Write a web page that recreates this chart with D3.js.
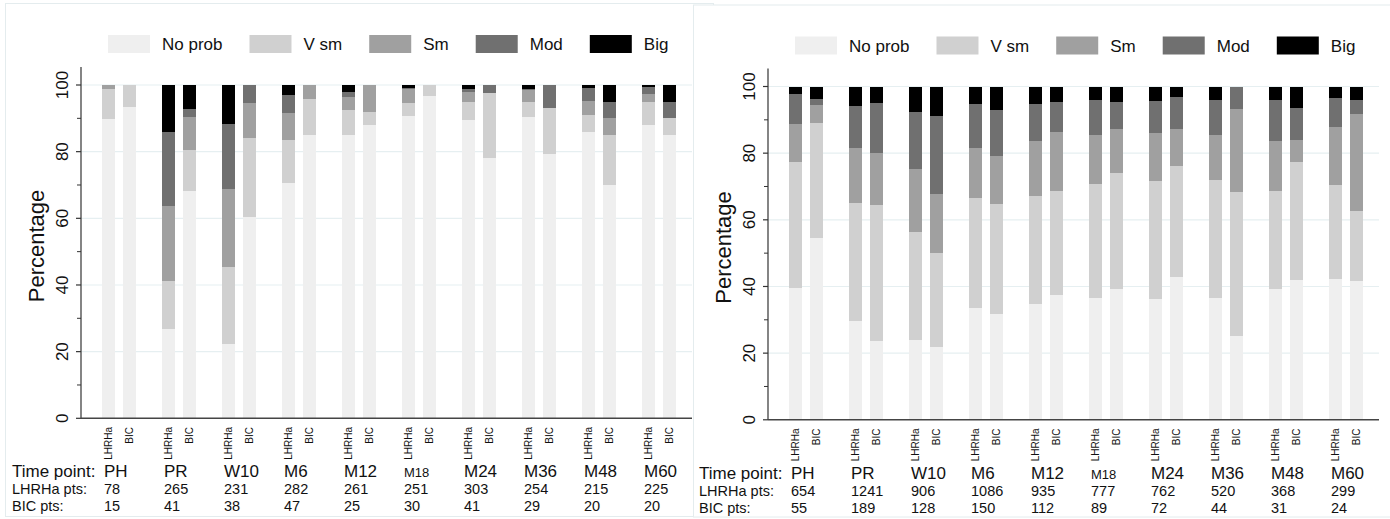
<!DOCTYPE html>
<html>
<head>
<meta charset="utf-8">
<script src="https://cdn.jsdelivr.net/npm/d3@7"></script>
<style>
  html, body { margin: 0; padding: 0; background: #fff; }
  svg text { font-family: "Liberation Sans", Arial, sans-serif; fill: #111; }
</style>
</head>
<body>
<svg id="chart" width="1390" height="519"></svg>
<script>
// ---------- data ----------
const timePoints = ["PH", "PR", "W10", "M6", "M12", "M18", "M24", "M36", "M48", "M60"];
const arms = ["LHRHa", "BIC"];
const categories = ["No prob", "V sm", "Sm", "Mod", "Big"];
const yTicks = [0, 20, 40, 60, 80, 100];
const yMinorTicks = [10, 30, 50, 70, 90];

// left panel: percentages per time point [No prob, V sm, Sm, Mod, Big]
const leftLHRHa = [
  [89.7, 9.0, 1.3, 0, 0],
  [26.8, 14.3, 22.6, 22.3, 14.0],
  [22.3, 23.1, 23.3, 19.5, 11.8],
  [70.5, 12.9, 8.1, 5.4, 3.1],
  [84.9, 7.7, 3.7, 1.5, 2.2],
  [90.6, 3.9, 4.3, 0.2, 1.0],
  [89.4, 5.5, 2.9, 0.9, 1.3],
  [90.3, 4.5, 3.7, 0.2, 1.3],
  [85.8, 5.2, 4.1, 3.9, 1.0],
  [87.9, 7.0, 2.3, 2.1, 0.7]
];
const leftBIC = [
  [93.3, 6.7, 0, 0, 0],
  [68.3, 12.2, 9.8, 2.4, 7.3],
  [60.5, 23.7, 10.5, 5.3, 0],
  [85.1, 10.6, 4.3, 0, 0],
  [88.0, 4.0, 8.0, 0, 0],
  [96.7, 3.3, 0, 0, 0],
  [78.0, 19.5, 0, 2.5, 0],
  [79.3, 13.8, 0, 6.9, 0],
  [70.0, 15.0, 5.0, 5.0, 5.0],
  [85.0, 5.0, 0, 5.0, 5.0]
];
const leftLHRHaPts = [78, 265, 231, 282, 261, 251, 303, 254, 215, 225];
const leftBICPts = [15, 41, 38, 47, 25, 30, 41, 29, 20, 20];

// right panel
const rightLHRHa = [
  [39.4, 38.0, 11.4, 9.0, 2.2],
  [29.5, 35.4, 16.7, 12.6, 5.8],
  [23.9, 32.3, 19.0, 17.2, 7.6],
  [33.4, 33.0, 15.2, 13.0, 5.4],
  [34.6, 32.4, 16.7, 11.1, 5.2],
  [36.4, 34.2, 14.9, 10.5, 4.0],
  [36.1, 35.4, 14.6, 9.6, 4.3],
  [36.4, 35.4, 13.7, 10.5, 4.0],
  [39.1, 29.4, 15.2, 12.3, 4.0],
  [42.1, 28.2, 17.6, 8.7, 3.4]
];
const rightBIC = [
  [54.5, 34.5, 5.5, 1.8, 3.7],
  [23.6, 40.7, 15.8, 15.0, 4.9],
  [21.8, 28.1, 17.7, 23.6, 8.8],
  [31.6, 33.0, 14.6, 13.8, 7.0],
  [37.3, 31.2, 17.9, 9.0, 4.6],
  [39.1, 34.8, 13.4, 8.1, 4.6],
  [42.7, 33.5, 11.1, 9.6, 3.1],
  [25.0, 43.2, 25.0, 6.8, 0],
  [41.9, 35.5, 6.5, 9.7, 6.4],
  [41.7, 20.8, 29.2, 4.2, 4.1]
];
const rightLHRHaPts = [654, 1241, 906, 1086, 935, 777, 762, 520, 368, 299];
const rightBICPts = [55, 189, 128, 150, 112, 89, 72, 44, 31, 24];

// ---------- drawing ----------
const colors = d3.scaleOrdinal(categories, ["#efefef", "#d0d0d0", "#a0a0a0", "#707070", "#000000"]);
const svg = d3.select("#chart");

function drawPanel(cfg) {
  const g = svg.append("g").attr("transform", `translate(${cfg.dx},${cfg.dy})`);

  g.append("rect")
    .attr("x", cfg.frame[0]).attr("y", cfg.frame[1])
    .attr("width", cfg.frame[2]).attr("height", cfg.frame[3])
    .attr("fill", "#fff").attr("stroke", "#e4ecee").attr("stroke-width", 1);

  const y = d3.scaleLinear().domain([0, 100]).range([418.3, 85]);
  const xOuter = d3.scaleBand().domain(timePoints).range([89, 689]);
  const xInner = d3.scalePoint().domain(arms).range([-10.5, 10.5]);
  const barW = 13;
  const axisX = 81, plotRight = 692;

  // gridlines
  g.append("g").selectAll("line").data(yTicks.filter(t => t > 0)).join("line")
    .attr("x1", axisX).attr("x2", plotRight)
    .attr("y1", d => y(d)).attr("y2", d => y(d))
    .attr("stroke", "#e6eff1").attr("stroke-width", 1.2);

  // bars
  const rows = [];
  timePoints.forEach((tp, i) => {
    arms.forEach(arm => {
      const vals = cfg.values[arm][i];
      let cum = 0;
      categories.forEach((c, k) => {
        rows.push({ tp, arm, cat: c, y0: cum, y1: cum + vals[k] });
        cum += vals[k];
      });
    });
  });
  g.append("g").selectAll("rect").data(rows.filter(r => r.y1 > r.y0)).join("rect")
    .attr("x", d => xOuter(d.tp) + xOuter.bandwidth() / 2 + xInner(d.arm) - barW / 2)
    .attr("width", barW)
    .attr("y", d => y(Math.min(d.y1, 100)))
    .attr("height", d => y(d.y0) - y(Math.min(d.y1, 100)))
    .attr("fill", d => colors(d.cat))
    .attr("shape-rendering", "crispEdges");

  // y axis
  const ax = g.append("g").attr("transform", `translate(${axisX},0)`);
  ax.append("line").attr("x1", 0).attr("x2", 0).attr("y1", 67).attr("y2", y(0))
    .attr("stroke", "#333").attr("stroke-width", 1.2);
  ax.selectAll("line.major").data(yTicks).join("line").attr("class", "major")
    .attr("x1", -5).attr("x2", 0).attr("y1", d => y(d)).attr("y2", d => y(d))
    .attr("stroke", "#333").attr("stroke-width", 1.2);
  ax.selectAll("line.minor").data(yMinorTicks).join("line").attr("class", "minor")
    .attr("x1", -4).attr("x2", 0).attr("y1", d => y(d)).attr("y2", d => y(d))
    .attr("stroke", "#333").attr("stroke-width", 1);
  ax.selectAll("text").data(yTicks).join("text")
    .attr("transform", d => `translate(-13,${y(d)}) rotate(-90)`)
    .attr("text-anchor", "middle")
    .style("font-size", "17px")
    .text(d => d);

  // x axis line
  g.append("line").attr("x1", axisX).attr("x2", plotRight).attr("y1", y(0)).attr("y2", y(0))
    .attr("stroke", "#444").attr("stroke-width", 1.4);

  // y title
  g.append("text")
    .attr("transform", `translate(44,246) rotate(-90)`)
    .attr("text-anchor", "middle")
    .style("font-size", "22px")
    .text("Percentage");

  // arm labels (rotated)
  const armLabels = [];
  timePoints.forEach(tp => arms.forEach(arm => armLabels.push({ tp, arm })));
  g.append("g").selectAll("text").data(armLabels).join("text")
    .attr("transform", d => `translate(${xOuter(d.tp) + xOuter.bandwidth() / 2 + xInner(d.arm) + 3.5},427) rotate(-90)`)
    .attr("text-anchor", "end")
    .style("font-size", "10px")
    .text(d => d.arm);

  // legend
  const leg = g.append("g").attr("transform", "translate(108,35)");
  let lx = 0;
  categories.forEach(c => {
    leg.append("rect").attr("x", lx).attr("y", 0).attr("width", 42).attr("height", 18)
      .attr("fill", colors(c));
    const t = leg.append("text").attr("x", lx + 42 + 12).attr("y", 15)
      .style("font-size", "17px").text(c);
    lx += 42 + 12 + t.node().getComputedTextLength() + 27;
  });

  // bottom table
  const groupLeft = tp => xOuter(tp) + xOuter.bandwidth() / 2 + xInner(arms[0]) - barW / 2;
  g.append("text").attr("x", 12).attr("y", 477).style("font-size", "17px").text("Time point:");
  g.append("g").selectAll("text").data(timePoints).join("text")
    .attr("x", d => groupLeft(d) + 2)
    .attr("y", 477)
    .style("font-size", d => d === "M18" ? "13px" : "17px")
    .text(d => d);
  g.append("text").attr("x", 12).attr("y", 494).style("font-size", "14.5px").text("LHRHa pts:");
  g.append("g").selectAll("text").data(cfg.lhrhaPts).join("text")
    .attr("x", (d, i) => groupLeft(timePoints[i]) + 2)
    .attr("y", 494).style("font-size", "14.5px").text(d => d);
  g.append("text").attr("x", 12).attr("y", 511).style("font-size", "14.5px").text("BIC pts:");
  g.append("g").selectAll("text").data(cfg.bicPts).join("text")
    .attr("x", (d, i) => groupLeft(timePoints[i]) + 2)
    .attr("y", 511).style("font-size", "14.5px").text(d => d);
}

drawPanel({
  dx: 0, dy: 0, frame: [5.5, 3.5, 708, 513],
  values: { LHRHa: leftLHRHa, BIC: leftBIC },
  lhrhaPts: leftLHRHaPts, bicPts: leftBICPts
});
drawPanel({
  dx: 687, dy: 1.5, frame: [6.5, 3.5, 700, 512],
  values: { LHRHa: rightLHRHa, BIC: rightBIC },
  lhrhaPts: rightLHRHaPts, bicPts: rightBICPts
});
</script>
</body>
</html>
